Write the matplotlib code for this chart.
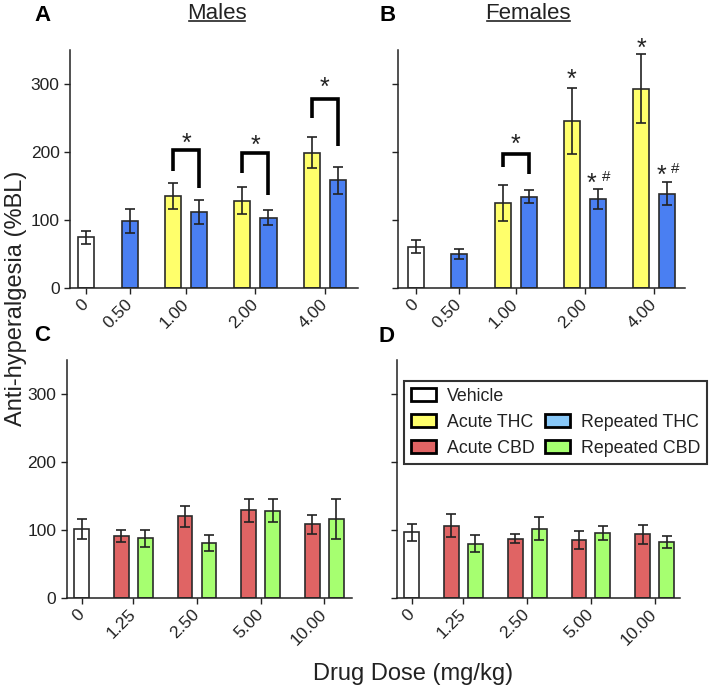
import matplotlib
matplotlib.use("Agg")
import matplotlib.pyplot as plt
from matplotlib.patches import Patch
from matplotlib.lines import Line2D
import numpy as np

plt.rcParams.update({"font.family": ["Liberation Sans", "DejaVu Sans"], "font.size": 12})

INK = "#222222"
WHITE, YELLOW, BLUE, RED, GREEN, LIGHTBLUE = (
    "#ffffff", "#ffff6b", "#4a7ff2", "#e06464", "#a6ff70", "#88c8f8")

# ---- data (mean, SEM) ----
thc_doses = ["0", "0.50", "1.00", "2.00", "4.00"]
cbd_doses = ["0", "1.25", "2.50", "5.00", "10.00"]

A_vehicle, A_vehicle_err = 75, 9.5
A_acute = [None, None, 136, 129, 199.5]
A_acute_err = [None, None, 19, 20, 23]
A_rep = [None, 99, 112, 104, 159]
A_rep_err = [None, 18, 18, 11, 20]

B_vehicle, B_vehicle_err = 61, 9.5
B_acute = [None, None, 125.5, 246, 293.6]
B_acute_err = [None, None, 26, 48.5, 51]
B_rep = [None, 50.5, 135, 131, 139]
B_rep_err = [None, 7, 9, 15, 17]

C_vehicle, C_vehicle_err = 102, 15
C_acute = [None, 91.7, 120.6, 129.4, 108.8]
C_acute_err = [None, 8.5, 15.5, 16.5, 14]
C_rep = [None, 88, 81, 129, 116.7]
C_rep_err = [None, 12.5, 12, 16.5, 29.5]

D_vehicle, D_vehicle_err = 97, 13
D_acute = [None, 107, 87.7, 85.8, 94]
D_acute_err = [None, 17, 7, 13.5, 14]
D_rep = [None, 80.4, 102.5, 96, 82.8]
D_rep_err = [None, 12, 17, 10, 9]

# significance brackets: (group, top, left leg end, right leg end, star y)
A_brackets = [(2, 203, 172, 147, 223), (3, 199, 169, 137, 221), (4, 279, 250, 210, 306)]
B_brackets = [(2, 197, 178, 168, 221.5)]
B_acute_stars = [(3, 317), (4, 362.6)]          # vs vehicle, over acute bar
B_rep_marks = [(3, 164), (4, 176)]              # "* #" over repeated bar

GAP_IN, GAP_OUT = 0.625, 1.69


def _layout(acute, rep):
    """bar centres per group (vehicle group first), GraphPad-style spacing"""
    groups, x = [], 0.0
    for g in range(len(acute)):
        n = 1 if g == 0 else int(acute[g] is not None) + int(rep[g] is not None)
        xs = [x + 0.5 + i * (1 + GAP_IN) for i in range(n)]
        groups.append(xs)
        x = xs[-1] + 0.5 + GAP_OUT
    return groups


def panel(ax, doses, veh, veh_err, acute, acute_err, rep, rep_err, c_acute, c_rep, pads, ylabels):
    groups = _layout(acute, rep)
    kw = dict(width=1, edgecolor="#2b2b2b", linewidth=1.2, zorder=2,
              error_kw=dict(ecolor=INK, elinewidth=1.2, capsize=3.6, capthick=1.2))
    ax.bar(groups[0][0], veh, yerr=veh_err, color=WHITE, **kw)
    for g in range(1, len(doses)):
        xs = list(groups[g])
        if acute[g] is not None:
            ax.bar(xs.pop(0), acute[g], yerr=acute_err[g], color=c_acute, **kw)
        if rep[g] is not None:
            ax.bar(xs.pop(0), rep[g], yerr=rep_err[g], color=c_rep, **kw)
    centers = [np.mean(xs) for xs in groups]
    ax.set_xlim(-pads[0], groups[-1][-1] + 0.5 + pads[1])
    ax.set_ylim(0, 350)
    ax.set_yticks([0, 100, 200, 300])
    if not ylabels:
        ax.set_yticklabels([])
    ax.set_xticks(centers, doses, rotation=45, ha="right", va="center",
                  rotation_mode="anchor")
    ax.tick_params(axis="both", length=4, width=1, color=INK, labelsize=12.5,
                   labelcolor=INK, direction="out")
    ax.tick_params(axis="x", pad=6)
    for s in ("top", "right"):
        ax.spines[s].set_visible(False)
    for s in ("left", "bottom"):
        ax.spines[s].set_linewidth(1.1)
        ax.spines[s].set_color(INK)
    return groups


def star(ax, x, y, text="*", size=18, dx=0):
    ax.annotate(text, (x, y), xytext=(dx, -0.58 * size), textcoords="offset points",
                ha="center", va="baseline", fontsize=size, color=INK, annotation_clip=False)


def brackets(ax, groups, spec):
    for g, top, yl, yr, ys in spec:
        x0, x1 = groups[g][0], groups[g][1]
        ax.plot([x0, x0, x1, x1], [yl, top, top, yr], color="black", lw=2.6,
                solid_joinstyle="miter", solid_capstyle="butt", clip_on=False, zorder=3)
        star(ax, (x0 + x1) / 2, ys)


fig = plt.figure(figsize=(7.14, 6.87), dpi=100)
axA = fig.add_axes([0.0980, 0.5803, 0.4034, 0.3464])
axB = fig.add_axes([0.5578, 0.5803, 0.4015, 0.3464])
axC = fig.add_axes([0.0934, 0.1291, 0.3992, 0.3464])
axD = fig.add_axes([0.5556, 0.1291, 0.3968, 0.3464])

gA = panel(axA, thc_doses, A_vehicle, A_vehicle_err, A_acute, A_acute_err, A_rep, A_rep_err,
           YELLOW, BLUE, (0.52, 0.75), True)
gB = panel(axB, thc_doses, B_vehicle, B_vehicle_err, B_acute, B_acute_err, B_rep, B_rep_err,
           YELLOW, BLUE, (0.62, 0.6), False)
gC = panel(axC, cbd_doses, C_vehicle, C_vehicle_err, C_acute, C_acute_err, C_rep, C_rep_err,
           RED, GREEN, (0.52, 0.54), True)
gD = panel(axD, cbd_doses, D_vehicle, D_vehicle_err, D_acute, D_acute_err, D_rep, D_rep_err,
           RED, GREEN, (0.52, 0.41), False)

brackets(axA, gA, A_brackets)
brackets(axB, gB, B_brackets)
for g, y in B_acute_stars:
    star(axB, gB[g][0], y)
for g, y in B_rep_marks:
    star(axB, gB[g][1], y, dx=-4.5)
    axB.annotate("#", (gB[g][1], y), xytext=(6, -3), textcoords="offset points",
                 ha="center", va="baseline", fontsize=11, color=INK)

# legend (col 1: Vehicle/Acute, col 2: blank/Repeated)
hkw = dict(edgecolor="black", linewidth=2)
handles = [Patch(facecolor=WHITE, label="Vehicle", **hkw),
           Patch(facecolor=YELLOW, label="Acute THC", **hkw),
           Patch(facecolor=RED, label="Acute CBD", **hkw),
           Patch(facecolor="none", edgecolor="none", label=" "),
           Patch(facecolor=LIGHTBLUE, label="Repeated THC", **hkw),
           Patch(facecolor=GREEN, label="Repeated CBD", **hkw)]
leg = fig.legend(handles=handles, ncol=2, loc="upper left", bbox_to_anchor=(0.566, 0.4454),
                 fontsize=12.8, frameon=True, fancybox=False, edgecolor="black",
                 handlelength=1.4, handleheight=0.75, handletextpad=0.6,
                 columnspacing=0.6, labelspacing=0.5, borderpad=0.4, borderaxespad=0)
leg.get_frame().set_linewidth(1.5)
for t in leg.get_texts():
    t.set_color(INK)

# panel letters, titles, axis labels
for (x, y, s) in [(0.059, 0.978, "A"), (0.543, 0.978, "B"), (0.059, 0.511, "C"), (0.542, 0.510, "D")]:
    fig.text(x, y, s, fontsize=16, fontweight="bold", ha="center", va="center", color="black")
titles = [fig.text(0.304, 0.980, "Males", fontsize=16, ha="center", va="center", color=INK),
          fig.text(0.740, 0.980, "Females", fontsize=16, ha="center", va="center", color=INK)]
fig.text(0.0224, 0.5655, "Anti-hyperalgesia (%BL)", fontsize=17, rotation=90,
         ha="center", va="center", color=INK)
fig.text(0.578, 0.0102, "Drug Dose (mg/kg)", fontsize=17, ha="center", va="baseline", color=INK)

# underline the titles
fig.canvas.draw()
r = fig.canvas.get_renderer()
for t in titles:
    bb = t.get_window_extent(r).transformed(fig.transFigure.inverted())
    fig.add_artist(Line2D([bb.x0 + 0.002, bb.x1 - 0.002], [bb.y0 + 0.004] * 2,
                          transform=fig.transFigure, color=INK, lw=1.2))

fig.savefig("out.png", dpi=100)
